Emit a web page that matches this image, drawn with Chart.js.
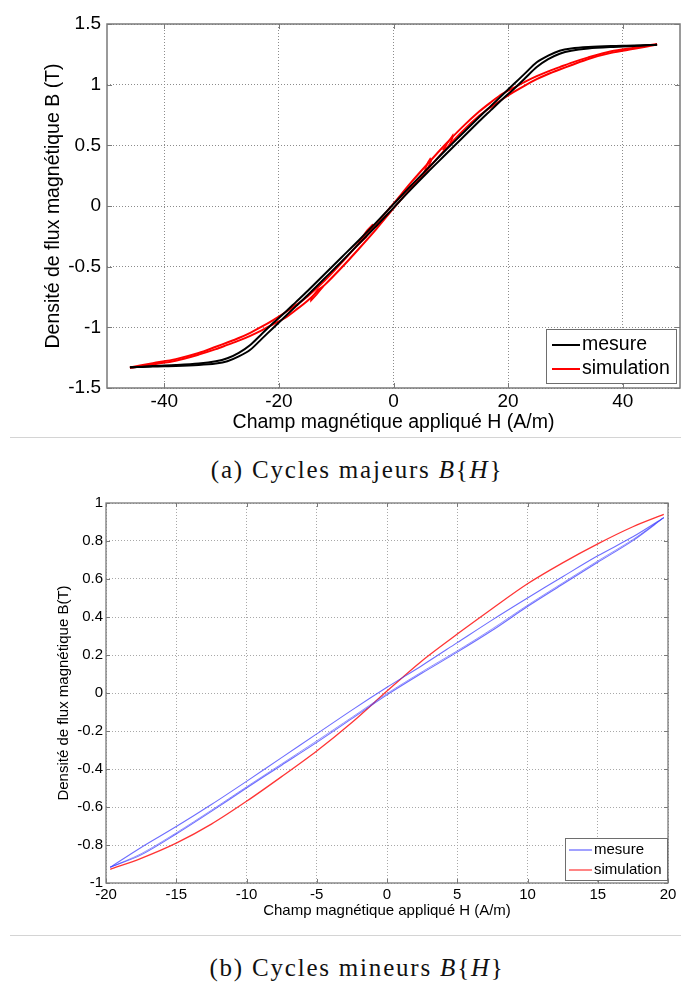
<!DOCTYPE html>
<html>
<head>
<meta charset="utf-8">
<script src="https://cdn.jsdelivr.net/npm/chart.js@4.4.1/dist/chart.umd.min.js"></script>
<style>
  body { margin: 0; background: #fff; width: 681px; height: 988px; position: relative; overflow: hidden; }
  .box { position: absolute; left: 0; }
  .sep { position: absolute; left: 10px; width: 671px; height: 0; border-top: 1px solid #d4d4d4; }
  .caption { position: absolute; left: 0; width: 714px; text-align: center; font-family: "Liberation Serif", "Times New Roman", serif; font-size: 25px; letter-spacing: 1.8px; line-height: 30px; color: #111; }
</style>
</head>
<body>
<div class="box" style="top:0"><canvas id="majeurs" width="681" height="437"></canvas></div>
<div class="sep" style="top:437px"></div>
<div class="caption" style="top:455px">(a) Cycles majeurs <i>B</i>{<i>H</i>}</div>
<div class="box" style="top:480px"><canvas id="mineurs" width="681" height="455"></canvas></div>
<div class="sep" style="top:935px"></div>
<div class="caption" style="top:953px">(b) Cycles mineurs <i>B</i>{<i>H</i>}</div>
<script>
// ---- (a) cycles majeurs ----
const H_MAJ = [-46, -42, -38, -34, -31, -29, -27, -25, -23, -21, -19, -17, -15, -12, -9, -6, -3, 0,
  3, 6, 9, 12, 15, 17, 19, 21, 23, 25, 27, 29, 31, 34, 38, 42, 46];
// mesure, branche descendante (haute) et montante (basse)
const MES_MAJ_HAUT = [-1.33, -1.318, -1.31, -1.298, -1.28, -1.255, -1.21, -1.145, -1.055, -0.965, -0.88, -0.79, -0.70, -0.56, -0.42, -0.28, -0.135, 0.015,
  0.165, 0.31, 0.455, 0.595, 0.735, 0.825, 0.915, 1.005, 1.095, 1.185, 1.24, 1.28, 1.298, 1.31, 1.318, 1.322, 1.33];
const MES_MAJ_BAS = [-1.33, -1.322, -1.318, -1.31, -1.298, -1.28, -1.24, -1.185, -1.095, -1.005, -0.915, -0.825, -0.735, -0.595, -0.455, -0.31, -0.165, -0.015,
  0.135, 0.28, 0.42, 0.56, 0.70, 0.79, 0.88, 0.965, 1.055, 1.145, 1.21, 1.255, 1.28, 1.298, 1.31, 1.318, 1.33];
// simulation
const SIM_MAJ_HAUT = [-1.33, -1.295, -1.262, -1.212, -1.16, -1.125, -1.088, -1.045, -0.995, -0.94, -0.88, -0.815, -0.745, -0.615, -0.465, -0.305, -0.145, 0.02,
  0.19, 0.35, 0.505, 0.65, 0.78, 0.855, 0.925, 0.975, 1.025, 1.07, 1.11, 1.145, 1.18, 1.225, 1.275, 1.305, 1.335];
const SIM_MAJ_BAS = [-1.335, -1.305, -1.275, -1.225, -1.18, -1.145, -1.11, -1.07, -1.025, -0.975, -0.925, -0.855, -0.78, -0.65, -0.505, -0.35, -0.19, -0.02,
  0.145, 0.305, 0.465, 0.615, 0.745, 0.815, 0.88, 0.94, 0.995, 1.045, 1.088, 1.125, 1.16, 1.212, 1.262, 1.295, 1.33];
// petites boucles visibles sur la simulation
const SIM_BOUCLE1_H = [5.2, 6.0, 6.4, 6.6, 6.0, 5.2];
const SIM_BOUCLE1_B = [0.26, 0.36, 0.39, 0.375, 0.315, 0.26];
const SIM_BOUCLE2_H = [8.6, 9.8, 10.3, 10.3, 9.6, 8.6];
const SIM_BOUCLE2_B = [0.46, 0.545, 0.58, 0.56, 0.49, 0.46];
const SIM_BOUCLE3_H = [-3.6, -4.8, -6.0, -6.0, -4.6, -3.6];
const SIM_BOUCLE3_B = [-0.15, -0.26, -0.31, -0.29, -0.20, -0.15];
const SIM_BOUCLE4_H = [-12.2, -13.4, -14.4, -14.4, -13.2, -12.2];
const SIM_BOUCLE4_B = [-0.66, -0.73, -0.78, -0.76, -0.69, -0.66];
const X_TICKS_MAJ = [-40, -20, 0, 20, 40];
const Y_TICKS_MAJ = [-1.5, -1, -0.5, 0, 0.5, 1, 1.5];

// ---- (b) cycles mineurs ----
const H_MIN = [-19.7, -17.5, -15, -12.5, -10, -7.5, -5, -2.5, 0, 2.5, 5, 7.5, 10, 12.5, 15, 17.5, 19.7];
const MES_MIN_HAUT = [-0.917, -0.813, -0.703, -0.587, -0.465, -0.34, -0.215, -0.09, 0.03, 0.145, 0.265, 0.385, 0.50, 0.612, 0.722, 0.822, 0.923];
const MES_MIN_BAS = [-0.917, -0.852, -0.742, -0.623, -0.50, -0.38, -0.26, -0.135, -0.01, 0.105, 0.215, 0.33, 0.455, 0.572, 0.688, 0.802, 0.923];
const MES_MIN_BAS2 = [-0.917, -0.846, -0.736, -0.617, -0.494, -0.373, -0.252, -0.128, -0.003, 0.112, 0.222, 0.338, 0.462, 0.579, 0.695, 0.808, 0.923];
const SIM_MIN = [-0.928, -0.87, -0.79, -0.69, -0.57, -0.44, -0.305, -0.155, 0.01, 0.17, 0.31, 0.445, 0.575, 0.685, 0.785, 0.875, 0.94];
const X_TICKS_MIN = [-20, -15, -10, -5, 0, 5, 10, 15, 20];
const Y_TICKS_MIN = [-1, -0.8, -0.6, -0.4, -0.2, 0, 0.2, 0.4, 0.6, 0.8, 1];

const LABELS = ['mesure', 'simulation'];

const pts = (xs, ys) => xs.map((x, i) => ({ x, y: ys[i] }));
const rev = arr => arr.slice().reverse();

// Box, inward tick marks (MATLAB style)
const framePlugin = {
  id: 'frame',
  afterDatasetsDraw(chart, args, o) {
    const { ctx, chartArea: a, scales: { x, y } } = chart;
    ctx.save();
    ctx.strokeStyle = o.color;
    ctx.lineWidth = 1;
    ctx.beginPath();
    x.ticks.forEach(t => {
      const px = Math.round(x.getPixelForValue(t.value)) + 0.5;
      ctx.moveTo(px, a.bottom); ctx.lineTo(px, a.bottom - o.tick);
      ctx.moveTo(px, a.top); ctx.lineTo(px, a.top + o.tick);
    });
    y.ticks.forEach(t => {
      const py = Math.round(y.getPixelForValue(t.value)) + 0.5;
      ctx.moveTo(a.left, py); ctx.lineTo(a.left + o.tick, py);
      ctx.moveTo(a.right, py); ctx.lineTo(a.right - o.tick, py);
    });
    ctx.stroke();
    ctx.lineWidth = o.width;
    ctx.strokeRect(a.left, a.top, a.right - a.left, a.bottom - a.top);
    ctx.restore();
  }
};

// Legend box inside the plot
const boxLegend = {
  id: 'boxLegend',
  afterDraw(chart, args, o) {
    const ctx = chart.ctx;
    ctx.save();
    ctx.fillStyle = '#fff';
    ctx.fillRect(o.x, o.y, o.w, o.h);
    ctx.strokeStyle = '#6e6e6e';
    ctx.lineWidth = 1;
    ctx.strokeRect(o.x + 0.5, o.y + 0.5, o.w, o.h);
    ctx.font = o.font;
    ctx.textBaseline = 'middle';
    o.colors.forEach((c, i) => {
      const yy = o.y + o.rows[i];
      ctx.strokeStyle = c;
      ctx.lineWidth = o.lineWidth;
      ctx.beginPath();
      ctx.moveTo(o.x1, yy);
      ctx.lineTo(o.x2, yy);
      ctx.stroke();
      ctx.fillStyle = '#000';
      ctx.fillText(LABELS[i], o.tx, yy);
    });
    ctx.restore();
  }
};

function line(label, data, color, width, tension = 0.3) {
  return { label, data, borderColor: color, borderWidth: width, showLine: true, pointRadius: 0, tension, fill: false };
}

// chart (a)
new Chart(document.getElementById('majeurs'), {
  type: 'scatter',
  data: {
    datasets: [
      line(LABELS[0], rev(pts(H_MAJ, MES_MAJ_HAUT)), '#000000', 2),
      line(LABELS[0], pts(H_MAJ, MES_MAJ_BAS), '#000000', 2),
      line(LABELS[1], rev(pts(H_MAJ, SIM_MAJ_HAUT)), '#ff0000', 2),
      line(LABELS[1], pts(H_MAJ, SIM_MAJ_BAS), '#ff0000', 2),
      line(LABELS[1], pts(SIM_BOUCLE1_H, SIM_BOUCLE1_B), '#ff0000', 1.6, 0),
      line(LABELS[1], pts(SIM_BOUCLE2_H, SIM_BOUCLE2_B), '#ff0000', 1.6, 0),
      line(LABELS[1], pts(SIM_BOUCLE3_H, SIM_BOUCLE3_B), '#ff0000', 1.6, 0),
      line(LABELS[1], pts(SIM_BOUCLE4_H, SIM_BOUCLE4_B), '#ff0000', 1.6, 0)
    ]
  },
  options: {
    responsive: false,
    animation: false,
    layout: { padding: { top: 24, right: 1, left: 0, bottom: 0 } },
    plugins: {
      legend: { display: false },
      tooltip: { enabled: false },
      frame: { color: '#7a7a7a', width: 1.5, tick: 5 },
      boxLegend: {
        x: 546, y: 329, w: 130, h: 54, rows: [16, 40], x1: 552, x2: 580, tx: 582,
        font: '19.5px "Liberation Sans", Arial, sans-serif', lineWidth: 2, colors: ['#000000', '#ff0000']
      }
    },
    scales: {
      x: {
        type: 'linear', min: -50, max: 50,
        afterBuildTicks: s => { s.ticks = X_TICKS_MAJ.map(v => ({ value: v })); },
        afterFit: s => { s.height = 49; },
        grid: { color: '#8c8c8c', lineWidth: 1, drawTicks: false },
        border: { display: false, dash: [1, 2] },
        ticks: { color: '#000', padding: 2, font: { family: '"Liberation Sans", Arial, sans-serif', size: 19 } },
        title: { display: true, text: 'Champ magnétique appliqué H (A/m)', color: '#000',
          font: { family: '"Liberation Sans", Arial, sans-serif', size: 19.5 }, padding: { top: 0, bottom: 3 } }
      },
      y: {
        type: 'linear', min: -1.5, max: 1.5,
        afterBuildTicks: s => { s.ticks = Y_TICKS_MAJ.map(v => ({ value: v })); },
        afterFit: s => { s.width = 107; },
        grid: { color: '#8c8c8c', lineWidth: 1, drawTicks: false },
        border: { display: false, dash: [1, 2] },
        ticks: { color: '#000', padding: 6, callback: v => String(v), font: { family: '"Liberation Sans", Arial, sans-serif', size: 19 } },
        title: { display: true, text: 'Densité de flux magnétique B (T)', color: '#000',
          font: { family: '"Liberation Sans", Arial, sans-serif', size: 19.5 }, padding: { top: 42, bottom: 0 } }
      }
    }
  },
  plugins: [framePlugin, boxLegend]
});

// chart (b)
new Chart(document.getElementById('mineurs'), {
  type: 'scatter',
  data: {
    datasets: [
      line(LABELS[0], rev(pts(H_MIN, MES_MIN_HAUT)), 'rgba(60,60,255,0.75)', 1.1),
      line(LABELS[0], pts(H_MIN, MES_MIN_BAS), 'rgba(60,60,255,0.75)', 1.1),
      line(LABELS[0], pts(H_MIN, MES_MIN_BAS2), 'rgba(60,60,255,0.55)', 1),
      line(LABELS[1], pts(H_MIN, SIM_MIN), 'rgba(255,30,30,0.9)', 1.3)
    ]
  },
  options: {
    responsive: false,
    animation: false,
    layout: { padding: { top: 23, right: 13, left: 0, bottom: 12 } },
    plugins: {
      legend: { display: false },
      tooltip: { enabled: false },
      frame: { color: '#7a7a7a', width: 1.3, tick: 4 },
      boxLegend: {
        x: 565, y: 358, w: 102, h: 42, rows: [12, 32], x1: 569, x2: 592, tx: 594,
        font: '15px "Liberation Sans", Arial, sans-serif', lineWidth: 1.2, colors: ['rgba(60,60,255,0.8)', 'rgba(255,30,30,0.9)']
      }
    },
    scales: {
      x: {
        type: 'linear', min: -20, max: 20,
        afterBuildTicks: s => { s.ticks = X_TICKS_MIN.map(v => ({ value: v })); },
        afterFit: s => { s.height = 40; },
        grid: { color: '#a8a8a8', lineWidth: 1, drawTicks: false },
        border: { display: false, dash: [1, 2] },
        ticks: { color: '#000', padding: 3, font: { family: '"Liberation Sans", Arial, sans-serif', size: 15 } },
        title: { display: true, text: 'Champ magnétique appliqué H (A/m)', color: '#000',
          font: { family: '"Liberation Sans", Arial, sans-serif', size: 15 }, padding: { top: 0, bottom: 3 } }
      },
      y: {
        type: 'linear', min: -1, max: 1,
        afterBuildTicks: s => { s.ticks = Y_TICKS_MIN.map(v => ({ value: v })); },
        afterFit: s => { s.width = 106; },
        grid: { color: '#a8a8a8', lineWidth: 1, drawTicks: false },
        border: { display: false, dash: [1, 2] },
        ticks: { color: '#000', padding: 3, callback: v => String(v), font: { family: '"Liberation Sans", Arial, sans-serif', size: 15 } },
        title: { display: true, text: 'Densité de flux magnétique B(T)', color: '#000',
          font: { family: '"Liberation Sans", Arial, sans-serif', size: 15 }, padding: { top: 55, bottom: 0 } }
      }
    }
  },
  plugins: [framePlugin, boxLegend]
});
</script>
</body>
</html>
